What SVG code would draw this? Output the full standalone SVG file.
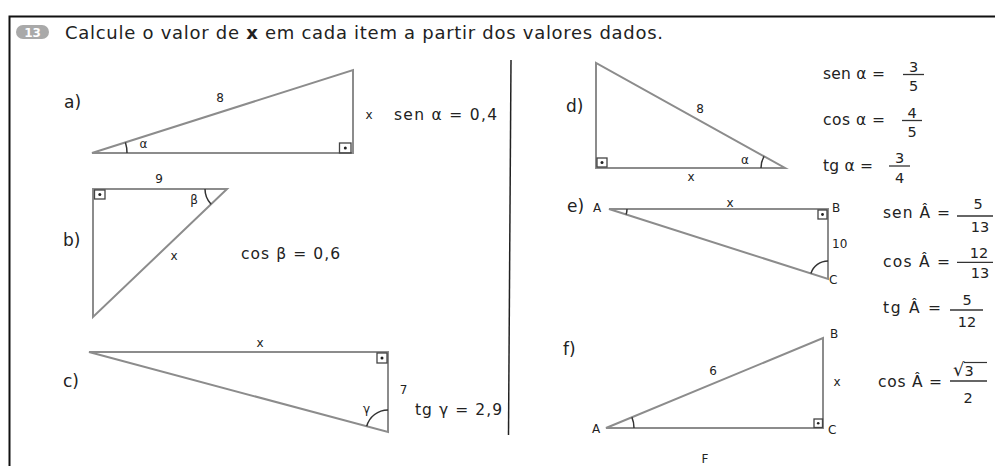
<svg xmlns="http://www.w3.org/2000/svg" width="995" height="466" viewBox="0 0 995 466">
<style>
text{font-family:"DejaVu Sans","Liberation Sans",sans-serif;fill:#222}
.tri{fill:none;stroke:#8c8c8c;stroke-width:2;stroke-linejoin:miter}
.arc{fill:none;stroke:#333;stroke-width:1.5}
.ra{fill:none;stroke:#444;stroke-width:1.3}
.dot{fill:#222}
.lbl{font-size:17px}
.sm{font-size:12px}
.fm{font-size:15.5px}
.fr{font-size:14.5px;text-anchor:middle}
.bar{stroke:#333;stroke-width:1.3}
.frame{stroke:#111;stroke-width:2;fill:none}
</style>
<rect width="995" height="466" fill="#ffffff"/>
<g id="frame">
<path class="frame" d="M9.5,466 V16.5 H995"/>
<line x1="511" y1="60" x2="508.5" y2="435" stroke="#222" stroke-width="1.5"/>
</g>
<g id="title">
<rect x="16" y="25" width="33" height="14" rx="7" fill="#a9a9a9"/>
<text x="32.5" y="36.5" font-size="12" font-weight="bold" text-anchor="middle" style="fill:#fff">13</text>
<text x="65" y="39" font-size="18" textLength="598" lengthAdjust="spacing">Calcule o valor de <tspan font-weight="bold">x</tspan> em cada item a partir dos valores dados.</text>
</g>
<g id="item-a">
<text class="lbl" x="64" y="108">a)</text>
<polygon class="tri" points="92,153 353,70 353,153"/>
<path class="arc" d="M127,153 A35,35 0 0 0 125.4,142.4"/>
<rect class="ra" x="339.5" y="143" width="11.5" height="10"/>
<circle class="dot" cx="345.3" cy="148" r="1.5"/>
<text class="sm" x="220" y="101.7" text-anchor="middle">8</text>
<text class="sm" x="143.5" y="147.7" text-anchor="middle">α</text>
<text class="sm" x="369" y="119" text-anchor="middle">x</text>
<text class="fm" x="394" y="119.5" textLength="103" lengthAdjust="spacing">sen α = 0,4</text>
</g>
<g id="item-b">
<text class="lbl" x="63" y="246">b)</text>
<polygon class="tri" points="93,189 227,189 93,317"/>
<path class="arc" d="M205,189 A22,22 0 0 0 211.1,204.2"/>
<rect class="ra" x="94.5" y="190" width="10.5" height="9"/>
<circle class="dot" cx="99.8" cy="194.5" r="1.5"/>
<text class="sm" x="159" y="183.3" text-anchor="middle">9</text>
<text class="sm" x="194" y="204" text-anchor="middle">β</text>
<text class="sm" x="174" y="260" text-anchor="middle">x</text>
<text class="fm" x="241" y="259.3" textLength="99" lengthAdjust="spacing">cos β = 0,6</text>
</g>
<g id="item-c">
<text class="lbl" x="63" y="386.7">c)</text>
<polygon class="tri" points="89,352 388,352 388,432"/>
<path class="arc" d="M388,410 A22,22 0 0 0 366.7,426.3"/>
<rect class="ra" x="377" y="353" width="10" height="10"/>
<circle class="dot" cx="382" cy="358" r="1.5"/>
<text class="sm" x="260" y="346.7" text-anchor="middle">x</text>
<text class="sm" x="403.5" y="394" text-anchor="middle">7</text>
<text class="sm" x="366.5" y="413" text-anchor="middle">γ</text>
<text class="fm" x="415" y="415" textLength="87" lengthAdjust="spacing">tg γ = 2,9</text>
</g>
<g id="item-d">
<text class="lbl" x="566" y="111.7">d)</text>
<polygon class="tri" points="596,63 596,168 785,168"/>
<path class="arc" d="M761,168 A24,24 0 0 1 764,156.3"/>
<rect class="ra" x="597" y="158" width="10" height="9"/>
<circle class="dot" cx="602" cy="162.5" r="1.5"/>
<text class="sm" x="700" y="112.7" text-anchor="middle">8</text>
<text class="sm" x="745" y="164" text-anchor="middle">α</text>
<text class="sm" x="691" y="180.7" text-anchor="middle">x</text>
<text class="fm" x="823" y="79" textLength="62" lengthAdjust="spacing">sen α =</text>
<text class="fr" x="913.5" y="72">3</text>
<line class="bar" x1="903" y1="74.5" x2="924" y2="74.5"/>
<text class="fr" x="913.5" y="90.5">5</text>
<text class="fm" x="823" y="125" textLength="62" lengthAdjust="spacing">cos α =</text>
<text class="fr" x="912" y="118">4</text>
<line class="bar" x1="902" y1="120.5" x2="922" y2="120.5"/>
<text class="fr" x="912" y="136.5">5</text>
<text class="fm" x="823" y="170.7" textLength="50" lengthAdjust="spacing">tg α =</text>
<text class="fr" x="899.5" y="163">3</text>
<line class="bar" x1="889" y1="166" x2="910" y2="166"/>
<text class="fr" x="899.5" y="182.5">4</text>
</g>
<g id="item-e">
<text class="lbl" x="567" y="212">e)</text>
<polygon class="tri" points="609,209 828,209 828,279"/>
<path class="arc" d="M627,209 A18,18 0 0 1 626.1,214.5"/>
<path class="arc" d="M828,261 A18,18 0 0 0 810.9,273.5"/>
<rect class="ra" x="818" y="210" width="9" height="9"/>
<circle class="dot" cx="822.5" cy="214.5" r="1.4"/>
<text class="sm" x="593" y="211.7" font-size="13">A</text>
<text class="sm" x="730" y="206.5" text-anchor="middle">x</text>
<text class="sm" x="832" y="212" font-size="13">B</text>
<text class="sm" x="832" y="248" font-size="12.5">10</text>
<text class="sm" x="829" y="284" font-size="13">C</text>
<text class="fm" x="883" y="218" textLength="67" lengthAdjust="spacing">sen Â =</text>
<text class="fr" x="978" y="209">5</text>
<line class="bar" x1="957" y1="216" x2="993" y2="216"/>
<text class="fr" x="980" y="231.5">13</text>
<text class="fm" x="883" y="267" textLength="67" lengthAdjust="spacing">cos Â =</text>
<text class="fr" x="979" y="258">12</text>
<line class="bar" x1="957" y1="262.3" x2="993" y2="262.3"/>
<text class="fr" x="980" y="278">13</text>
<text class="fm" x="883" y="313" textLength="58" lengthAdjust="spacing">tg Â =</text>
<text class="fr" x="967" y="305">5</text>
<line class="bar" x1="950" y1="310" x2="983" y2="310"/>
<text class="fr" x="967" y="327">12</text>
</g>
<g id="item-f">
<text class="lbl" x="563" y="355">f)</text>
<polygon class="tri" points="606,428 823,338 823,428"/>
<path class="arc" d="M634,428 A28,28 0 0 0 631.9,417.3"/>
<rect class="ra" x="814" y="419" width="8.5" height="8.5"/>
<circle class="dot" cx="818.2" cy="423.2" r="1.3"/>
<text class="sm" x="592" y="433" font-size="13">A</text>
<text class="sm" x="830" y="338" font-size="13">B</text>
<text class="sm" x="828" y="434" font-size="13">C</text>
<text class="sm" x="713" y="375" text-anchor="middle">6</text>
<text class="sm" x="837" y="386" text-anchor="middle">x</text>
<text class="fm" x="878" y="387" textLength="64" lengthAdjust="spacing">cos Â =</text>
<text x="953" y="376" font-size="18">√<tspan font-size="14.5">3</tspan></text>
<line x1="964" y1="362.5" x2="987" y2="362.5" stroke="#333" stroke-width="1.2"/>
<line class="bar" x1="950" y1="381" x2="987" y2="381"/>
<text class="fr" x="968" y="403">2</text>
<text class="sm" x="705" y="463" font-size="13" text-anchor="middle">F</text>
</g>
</svg>
